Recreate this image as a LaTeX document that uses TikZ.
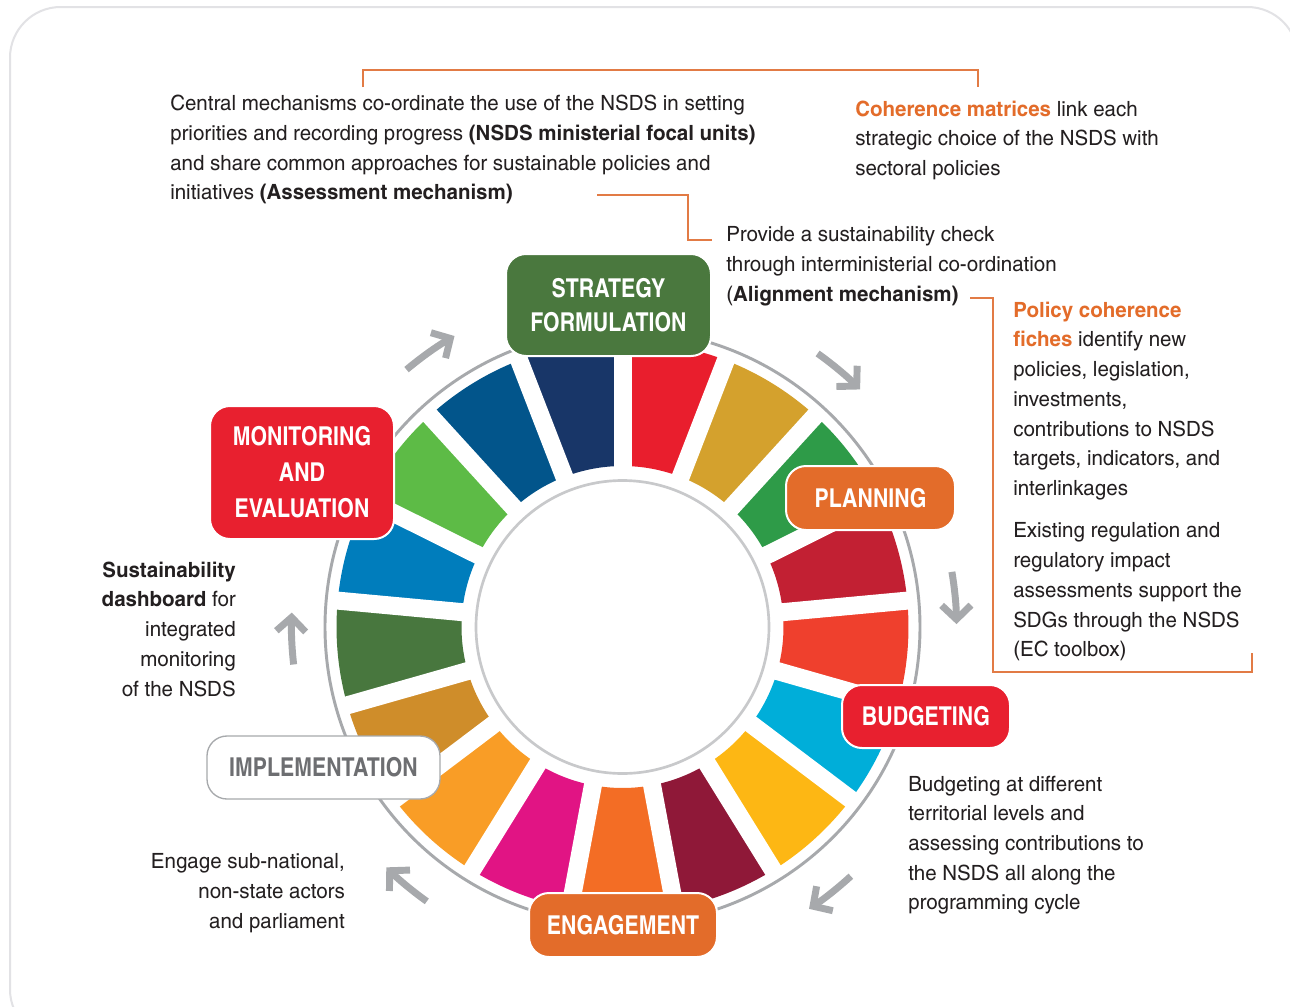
\documentclass[tikz,border=0pt]{standalone}
\usepackage{fontspec}
\setmainfont{texgyreheroscn}[Extension=.otf, UprightFont=*-regular, BoldFont=*-bold]
\newfontfamily\notefont{texgyreheroscn}[Extension=.otf, UprightFont=*-regular,
  BoldFont=*-bold, FakeStretch=1.19]
\usetikzlibrary{arrows.meta}

\definecolor{ink}{HTML}{231F20}
\definecolor{framegray}{HTML}{E2E2E5}
\definecolor{ringgray}{HTML}{A7A9AC}
\definecolor{innergray}{HTML}{C8C9CB}
\definecolor{arrowgray}{HTML}{A7A9AC}
\definecolor{accent}{HTML}{E36C2A}
\definecolor{bracketorange}{HTML}{E27B45}
\definecolor{stagegreen}{HTML}{4A783E}
\definecolor{stageorange}{HTML}{E36C2A}
\definecolor{stagered}{HTML}{E8202F}
\definecolor{implgray}{HTML}{6D6E71}
% goal colours, clockwise from the top
\definecolor{sdgA}{HTML}{E91E2D}
\definecolor{sdgB}{HTML}{D4A12D}
\definecolor{sdgC}{HTML}{2E9B48}
\definecolor{sdgD}{HTML}{C22033}
\definecolor{sdgE}{HTML}{EF402D}
\definecolor{sdgF}{HTML}{00AED9}
\definecolor{sdgG}{HTML}{FDB714}
\definecolor{sdgH}{HTML}{8F1838}
\definecolor{sdgI}{HTML}{F36D25}
\definecolor{sdgJ}{HTML}{E11484}
\definecolor{sdgK}{HTML}{F99D26}
\definecolor{sdgL}{HTML}{CF8D2A}
\definecolor{sdgM}{HTML}{48773E}
\definecolor{sdgN}{HTML}{007DBC}
\definecolor{sdgO}{HTML}{5DBB46}
\definecolor{sdgP}{HTML}{02558B}
\definecolor{sdgQ}{HTML}{183668}

\begin{document}
\begin{tikzpicture}[
  x=0.75pt, y=-0.75pt,
  every node/.style = {inner sep=0pt},
  note/.style = {font=\notefont\fontsize{15.75}{22.3}\selectfont, text=ink},
  stage/.style = {draw=white, line width=1.5pt, rounded corners=15pt, text=white,
                  align=center, font=\bfseries\fontsize{19.5}{26}\selectfont},
  bracket/.style = {draw=bracketorange, line width=1pt},
  cyclearrow/.style = {draw=arrowgray, line width=5.2pt,
                       -{Straight Barb[length=10.5pt, width=22pt]}}
]

\useasboundingbox (0,0) rectangle (1290,1007);
\fill[white] (0,0) rectangle (1290,1007);
\draw[framegray, line width=1.5pt, rounded corners=38pt] (10,7) rectangle (1298,1040);

% wheel of goals
\coordinate (hub) at (622.5,627);
\begin{scope}[shift={(hub)}, yscale=-1]
  \draw[ringgray, line width=2.2pt] (0,0) circle[radius=297.5];
  \foreach \c [count=\i from 0] in {sdgA,sdgB,sdgC,sdgD,sdgE,sdgF,sdgG,sdgH,sdgI,
                                    sdgJ,sdgK,sdgL,sdgM,sdgN,sdgO,sdgP,sdgQ} {
    \pgfmathsetmacro{\a}{90-\i*360/17}
    \pgfmathsetmacro{\b}{\a-360/17}
    \fill[\c] (\a:161) arc[start angle=\a, end angle=\b, radius=161]
      -- (\b:286) arc[start angle=\b, end angle=\a, radius=286] -- cycle;
  }
  \foreach \i in {0,...,16}
    \draw[white, line width=13.5pt] ({90-\i*360/17}:150) -- ({90-\i*360/17}:292);
  \draw[innergray, line width=2pt, fill=white] (0,0) circle[radius=146.5];

  % arrows round the cycle
  \draw[cyclearrow] (130:336) arc[start angle=130, end angle=120, radius=336];
  \draw[cyclearrow] (54.5:336) arc[start angle=54.5, end angle=45, radius=336];
  \draw[cyclearrow] (9.5:334) arc[start angle=9.5, end angle=0.5, radius=334];
  \draw[cyclearrow] (-47.5:338) arc[start angle=-47.5, end angle=-56.5, radius=338];
  \draw[cyclearrow] (234.5:337) arc[start angle=234.5, end angle=225.5, radius=337];
  \draw[cyclearrow] (186.5:331) arc[start angle=186.5, end angle=177.5, radius=331];
\end{scope}

% stages
\node[stage, fill=stagegreen, minimum width=205*0.75pt, minimum height=102*0.75pt]
  (strategy) at (608.5,305) {STRATEGY\\FORMULATION};
\node[stage, fill=stageorange, minimum width=169*0.75pt, minimum height=64*0.75pt]
  (planning) at (870.5,498) {PLANNING};
\node[stage, fill=stagered, minimum width=168*0.75pt, minimum height=63*0.75pt]
  (budgeting) at (926,716.5) {BUDGETING};
\node[stage, fill=stageorange, minimum width=188*0.75pt, minimum height=64*0.75pt]
  (engagement) at (623,925) {ENGAGEMENT};
\node[stage, fill=white, draw=ringgray, line width=1pt, text=implgray,
  minimum width=233*0.75pt, minimum height=63*0.75pt]
  (implementation) at (323.5,767.5) {IMPLEMENTATION};
\node[stage, fill=stagered, minimum width=184*0.75pt, minimum height=133*0.75pt,
  font=\bfseries\fontsize{19.5}{27}\selectfont]
  (monitoring) at (302,472.5) {MONITORING\\AND\\EVALUATION};

% notes
\node[note, anchor=north west, align=left] (central) at (170,95)
  {Central mechanisms co-ordinate the use of the NSDS in setting\\
   priorities and recording progress \textbf{(NSDS ministerial focal units)}\\
   and share common approaches for sustainable policies and\\
   initiatives \textbf{(Assessment mechanism)}};
\node[note, anchor=north west, align=left] (matrices) at (855,100.5)
  {\textcolor{accent}{\textbf{Coherence matrices}} link each\\
   strategic choice of the NSDS with\\
   sectoral policies};
\node[note, anchor=north west, align=left] (alignment) at (726,226.5)
  {Provide a sustainability check\\
   through interministerial co-ordination\\
   (\textbf{Alignment mechanism)}};
\node[note, anchor=north west, align=left] (fiches) at (1013,301.5)
  {\textcolor{accent}{\textbf{Policy coherence}}\\
   \textcolor{accent}{\textbf{fiches}} identify new\\
   policies, legislation,\\
   investments,\\
   contributions to NSDS\\
   targets, indicators, and\\
   interlinkages};
\node[note, anchor=north west, align=left] (toolbox) at (1013,522.5)
  {Existing regulation and\\
   regulatory impact\\
   assessments support the\\
   SDGs through the NSDS\\
   (EC toolbox)};
\node[note, anchor=north west, align=left] (cycle) at (908,775.5)
  {Budgeting at different\\
   territorial levels and\\
   assessing contributions to\\
   the NSDS all along the\\
   programming cycle};
\node[note, anchor=north east, align=right] (actors) at (345,853.5)
  {Engage sub-national,\\
   non-state actors\\
   and parliament};
\node[note, anchor=north east, align=right] (dashboard) at (236,561.5)
  {\textbf{Sustainability}\\
   \textbf{dashboard} for\\
   integrated\\
   monitoring\\
   of the NSDS};

% brackets
\draw[bracket] (363,87) |- (978,70) -- (978,87);
\draw[bracket] (597,195) -| (688,240) -- (712,240);
\draw[bracket] (970,298) -| (993,672) -| (1252,653);

\end{tikzpicture}
\end{document}
